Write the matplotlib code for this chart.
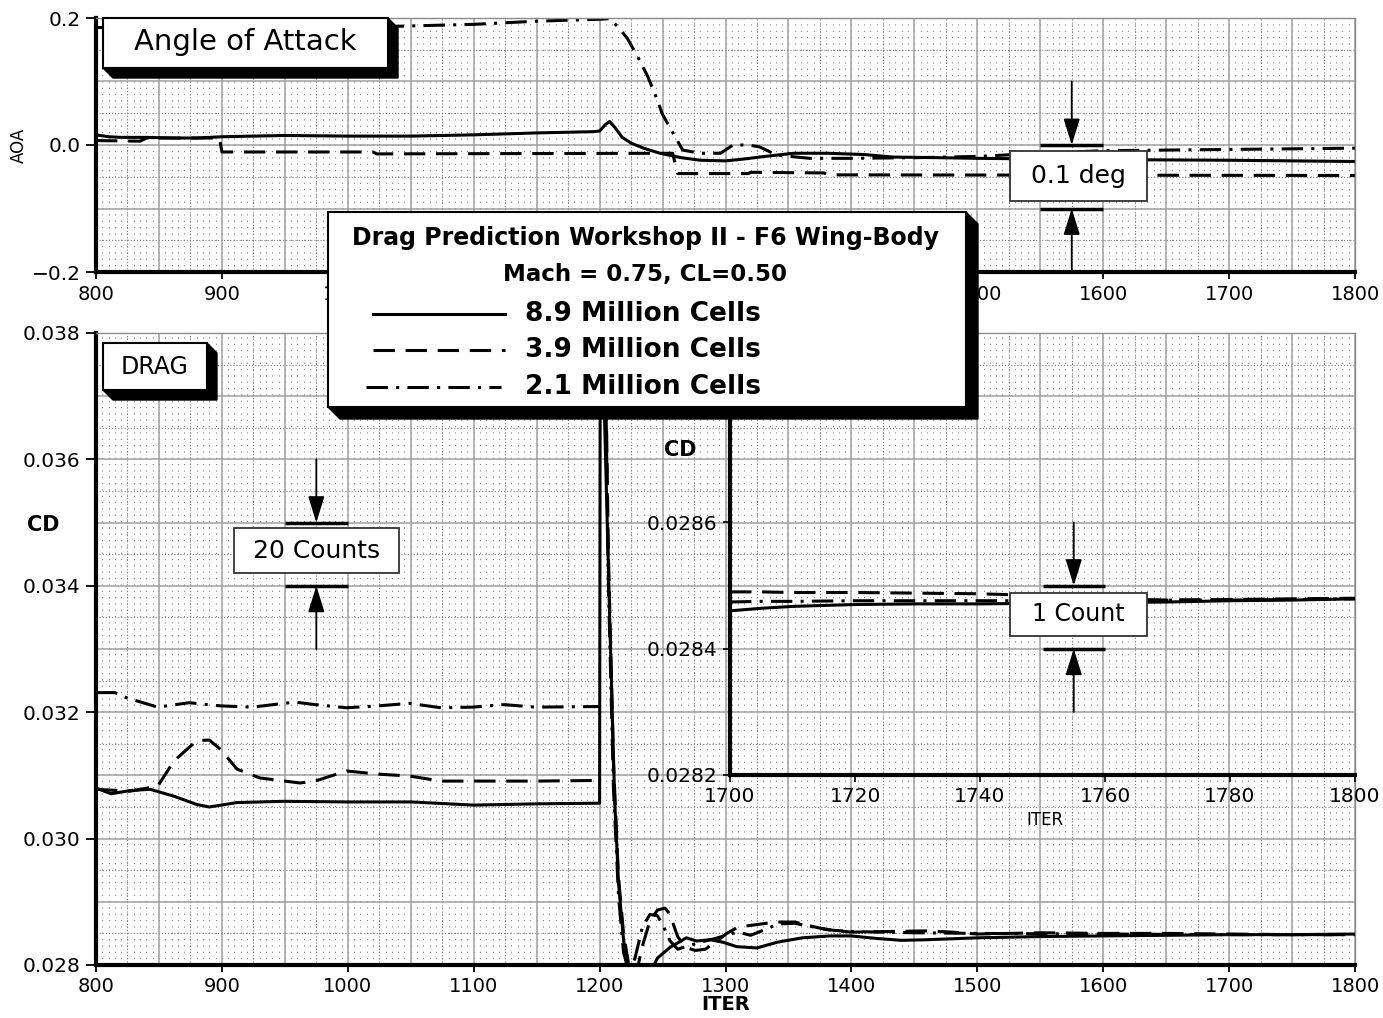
import numpy as np
import matplotlib
matplotlib.use("Agg")
import matplotlib.pyplot as plt
from matplotlib.patches import Polygon, Rectangle
from matplotlib.lines import Line2D

W, H = 1383, 1018

# angle of attack history (deg) for the three grids
aoa_fine_iter = [800, 810, 820, 840, 860, 880, 900, 950, 1000, 1050,
                 1100, 1150, 1195, 1200, 1205, 1208, 1212, 1218, 1225, 1235,
                 1248, 1265, 1280, 1300, 1315, 1327, 1354, 1381, 1410, 1433,
                 1470, 1500, 1550, 1600, 1700, 1800]
aoa_fine = [0.016, 0.013, 0.012, 0.012, 0.011, 0.011, 0.013, 0.015, 0.014, 0.014,
            0.016, 0.019, 0.021, 0.022, 0.033, 0.037, 0.028, 0.012, 0.003, -0.005,
            -0.013, -0.020, -0.024, -0.025, -0.022, -0.019, -0.013, -0.013, -0.015, -0.019,
            -0.020, -0.021, -0.022, -0.023, -0.024, -0.026]

aoa_med_iter = [800, 835, 840, 898, 900, 1020, 1023, 1258, 1262, 1318, 1320, 1378, 1383, 1800]
aoa_med = [0.007, 0.006, 0.011, 0.011, -0.011, -0.011, -0.014, -0.013, -0.045, -0.045,
           -0.043, -0.044, -0.047, -0.048]

aoa_coarse_iter = [800, 900, 1000, 1040, 1100, 1150, 1200, 1208, 1215, 1222,
                   1230, 1238, 1245, 1250, 1258, 1266, 1280, 1296, 1306, 1318,
                   1327, 1341, 1367, 1400, 1450, 1500, 1550, 1600, 1700, 1800]
aoa_coarse = [0.185, 0.186, 0.187, 0.187, 0.190, 0.195, 0.198, 0.199, 0.185, 0.168,
              0.140, 0.109, 0.075, 0.048, 0.020, -0.008, -0.013, -0.013, 0.0, 0.0,
              -0.003, -0.016, -0.021, -0.021, -0.020, -0.018, -0.013, -0.009, -0.007, -0.005]

# drag coefficient history (restart at iteration 1200)
cd_fine_iter = [800, 812, 827, 843, 862, 880, 890, 912, 949, 1000,
                1050, 1100, 1150, 1200, 1201, 1204, 1208, 1212, 1215, 1219,
                1223, 1230, 1238, 1246, 1256, 1269, 1277, 1288, 1298, 1309,
                1325, 1341, 1361, 1383, 1400, 1420, 1440, 1460, 1500, 1550,
                1600, 1650, 1700, 1750, 1800]
cd_fine = [0.03080, 0.03071, 0.03076, 0.03078, 0.03067, 0.03054, 0.03050, 0.03057, 0.03059, 0.03058,
           0.03058, 0.03053, 0.03055, 0.03056, 0.04500, 0.03660, 0.03350, 0.03060, 0.02930, 0.02840,
           0.02790, 0.02775, 0.02780, 0.02811, 0.02828, 0.02843, 0.02838, 0.02840, 0.02836, 0.02829,
           0.02827, 0.02836, 0.02843, 0.02846, 0.02846, 0.02842, 0.02839, 0.02840, 0.02843, 0.02845,
           0.02846, 0.02847, 0.02848, 0.02848, 0.02849]

cd_med_iter = [800, 827, 849, 862, 880, 890, 899, 912, 930, 962,
               974, 999, 1024, 1049, 1074, 1100, 1150, 1200, 1201, 1203,
               1207, 1211, 1215, 1219, 1224, 1229, 1234, 1240, 1246, 1252,
               1256, 1259, 1262, 1268, 1276, 1284, 1292, 1301, 1310, 1325,
               1340, 1355, 1367, 1380, 1400, 1430, 1460, 1480, 1500, 1550,
               1600, 1650, 1700, 1750, 1800]
cd_med = [0.03078, 0.03075, 0.03083, 0.03123, 0.03155, 0.03156, 0.03141, 0.03110, 0.03096, 0.03088,
          0.03091, 0.03107, 0.03102, 0.03099, 0.03091, 0.03091, 0.03091, 0.03092, np.nan, 0.04000,
          0.03450, 0.03120, 0.02940, 0.02850, 0.02790, 0.02785, 0.02830, 0.02870, 0.02887, 0.02890,
          0.02880, 0.02862, 0.02845, 0.02828, 0.02823, 0.02825, 0.02836, 0.02850, 0.02860, 0.02864,
          0.02868, 0.02868, 0.02862, 0.02856, 0.02852, 0.02853, 0.02854, 0.02852, 0.02849, 0.02851,
          0.02850, 0.02850, 0.02849, 0.02848, 0.02848]

cd_coarse_iter = [800, 815, 824, 849, 874, 899, 924, 958, 974, 999,
                  1024, 1049, 1074, 1099, 1124, 1149, 1200, 1201, 1203, 1207,
                  1211, 1215, 1219, 1223, 1228, 1234, 1240, 1246, 1251, 1256,
                  1262, 1270, 1280, 1292, 1302, 1310, 1320, 1330, 1342, 1355,
                  1370, 1385, 1400, 1450, 1500, 1600, 1700, 1800]
cd_coarse = [0.03231, 0.03231, 0.03223, 0.03208, 0.03215, 0.03210, 0.03208, 0.03216, 0.03212, 0.03207,
             0.03210, 0.03214, 0.03207, 0.03208, 0.03212, 0.03208, 0.03209, np.nan, 0.04000, 0.03400,
             0.03080, 0.02910, 0.02820, 0.02790, 0.02810, 0.02860, 0.02880, 0.02878, 0.02860, 0.02838,
             0.02825, 0.02830, 0.02836, 0.02842, 0.02848, 0.02852, 0.02847, 0.02855, 0.02865, 0.02866,
             0.02860, 0.02855, 0.02853, 0.02851, 0.02850, 0.02849, 0.02848, 0.02848]

# zoom on the last 100 iterations
zoom_iter = [1700, 1705, 1710, 1720, 1730, 1740, 1750, 1760, 1770, 1780, 1790, 1800]
zoom_fine = [0.028460, 0.028464, 0.028467, 0.028470, 0.028471, 0.028471,
             0.028472, 0.028473, 0.028474, 0.028476, 0.028477, 0.028479]
zoom_med = [0.028490, 0.028490, 0.028489, 0.028489, 0.028488, 0.028487,
            0.028484, 0.028479, 0.028477, 0.028478, 0.028479, 0.028480]
zoom_coarse = [0.028474, 0.028475, 0.028475, 0.028476, 0.028476, 0.028476,
               0.028476, 0.028476, 0.028477, 0.028477, 0.028478, 0.028479]

grid_labels = ['8.9 Million Cells', '3.9 Million Cells', '2.1 Million Cells']
iter_ticks = list(range(800, 1801, 100))
aoa_ticks = [-0.2, 0.0, 0.2]
aoa_tick_labels = ['\u22120.2', '0.0', '0.2']
cd_ticks = [0.028, 0.030, 0.032, 0.034, 0.036, 0.038]
zoom_iter_ticks = list(range(1700, 1801, 20))
zoom_cd_ticks = [0.0282, 0.0284, 0.0286]

fine_style = dict(color='black', lw=2.2, ls='-')
med_style = dict(color='black', lw=2.2, ls=(0, (7, 3.5)))
coarse_style = dict(color='black', lw=2.2, ls=(0, (7, 2.7, 1, 2.7)))


def fig_xy(x, y):
    return x / W, 1 - y / H


def px_rect(left, top, right, bottom):
    return [left / W, 1 - bottom / H, (right - left) / W, (bottom - top) / H]


def paper_grid(ax, xstep, ystep):
    # graph-paper look: solid lines, dotted half lines and a dot lattice
    x0, x1 = ax.get_xlim()
    y0, y1 = ax.get_ylim()
    eps = xstep * 1e-3
    xs_fine = np.arange(x0, x1 + eps, xstep / 10)
    ax.vlines(xs_fine, y0, y1, colors='#808080', linewidths=0.8,
              linestyles=(0, (1, 4.7)), zorder=0.1)
    xs_half = np.arange(x0 + xstep / 2, x1, xstep)
    ax.vlines(xs_half, y0, y1, colors='#808080', linewidths=0.8,
              linestyles=(0, (1, 1.8)), zorder=0.2)
    ys_half = np.arange(y0 + ystep / 2, y1, ystep)
    ax.hlines(ys_half, x0, x1, colors='#808080', linewidths=0.8,
              linestyles=(0, (1, 1.8)), zorder=0.2)
    ax.vlines(np.arange(x0, x1 + eps, xstep), y0, y1, colors='#a0a0a0',
              linewidths=1.1, zorder=0.3)
    ax.hlines(np.arange(y0, y1 + ystep * 1e-3, ystep), x0, x1, colors='#a0a0a0',
              linewidths=1.1, zorder=0.3)


def style_frame(ax):
    for side in ('left', 'bottom'):
        ax.spines[side].set_linewidth(3)
    for side in ('top', 'right'):
        ax.spines[side].set_linewidth(1)
        ax.spines[side].set_color('#8c8c8c')
    ax.tick_params(axis='y', direction='out', length=7, width=1.3, labelsize=14.5, pad=4)
    ax.tick_params(axis='x', direction='out', length=5, width=1.3, labelsize=14, pad=4)


def block(fig, x0, y0, x1, y1, depth, lw=1.5):
    if depth:
        shadow = [fig_xy(x0, y1), fig_xy(x0 + depth, y1 + depth),
                  fig_xy(x1 + depth, y1 + depth), fig_xy(x1 + depth, y0 + depth),
                  fig_xy(x1, y0)]
        fig.add_artist(Polygon(shadow, closed=True, transform=fig.transFigure,
                               fc='black', ec='black', lw=1))
    l, b = fig_xy(x0, y1)
    fig.add_artist(Rectangle((l, b), (x1 - x0) / W, (y1 - y0) / H,
                             transform=fig.transFigure, fc='white', ec='black', lw=lw))


def count_bracket(ax, x0, x1, lo, hi, reach):
    xm = (x0 + x1) / 2
    ax.hlines([lo, hi], x0, x1, colors='black', linewidths=2.5, zorder=4)
    arrow = dict(arrowstyle='-|>,head_length=0.9,head_width=0.28', color='black',
                 lw=1.3, mutation_scale=18, shrinkA=0, shrinkB=0)
    ax.annotate('', xy=(xm, hi), xytext=(xm, hi + reach), arrowprops=arrow)
    ax.annotate('', xy=(xm, lo), xytext=(xm, lo - reach), arrowprops=arrow)


def label_box(ax, x0, x1, y0, y1, text, size):
    ax.add_patch(Rectangle((x0, y0), x1 - x0, y1 - y0, fc='white', ec='#333333',
                           lw=1.3, zorder=5))
    ax.text((x0 + x1) / 2, (y0 + y1) / 2, text, ha='center', va='center',
            fontsize=size, zorder=6)


fig = plt.figure(figsize=(W / 100, H / 100), dpi=100)

# ---- angle of attack
ax_aoa = fig.add_axes(px_rect(96, 18, 1355, 272))
ax_aoa.set_xlim(800, 1800)
ax_aoa.set_ylim(-0.2, 0.2)
paper_grid(ax_aoa, 50, 0.1)
ax_aoa.plot(aoa_fine_iter, aoa_fine, zorder=2, **fine_style)
ax_aoa.plot(aoa_med_iter, aoa_med, zorder=2, **med_style)
ax_aoa.plot(aoa_coarse_iter, aoa_coarse, zorder=2, **coarse_style)
ax_aoa.set_xticks(iter_ticks)
ax_aoa.set_yticks(aoa_ticks, labels=aoa_tick_labels)
style_frame(ax_aoa)
ax_aoa.set_ylabel('AOA', fontsize=12, va='center')
ax_aoa.yaxis.set_label_coords(-0.061, 0.5)
count_bracket(ax_aoa, 1550, 1600, -0.1, 0.0, 0.1)
label_box(ax_aoa, 1526, 1635, -0.088, -0.010, '0.1 deg', 18)

# ---- drag coefficient
ax_cd = fig.add_axes(px_rect(96, 333, 1355, 965))
ax_cd.set_xlim(800, 1800)
ax_cd.set_ylim(0.028, 0.038)
paper_grid(ax_cd, 50, 0.001)
ax_cd.plot(cd_fine_iter, cd_fine, zorder=2, **fine_style)
ax_cd.plot(cd_med_iter, cd_med, zorder=2, **med_style)
ax_cd.plot(cd_coarse_iter, cd_coarse, zorder=2, **coarse_style)
ax_cd.set_xticks(iter_ticks)
ax_cd.set_yticks(cd_ticks, labels=[f'{v:.3f}' for v in cd_ticks])
style_frame(ax_cd)
ax_cd.set_ylabel('CD', rotation=0, fontsize=15, fontweight='bold', va='center', ha='center')
ax_cd.yaxis.set_label_coords(-0.042, 0.696)
ax_cd.set_xlabel('ITER', fontsize=14, fontweight='bold', va='center')
ax_cd.xaxis.set_label_coords(0.5, -0.063)
count_bracket(ax_cd, 950, 1000, 0.034, 0.035, 0.001)
label_box(ax_cd, 910, 1041, 0.03420, 0.03491, '20 Counts', 18)

# ---- converged tail, drawn over the main grid
ax_zoom = fig.add_axes(px_rect(730, 333, 1355, 775))
ax_zoom.set_facecolor('none')
ax_zoom.set_xlim(1700, 1800)
ax_zoom.set_ylim(0.0282, 0.0289)
ax_zoom.plot(zoom_iter, zoom_fine, zorder=2, **fine_style)
ax_zoom.plot(zoom_iter, zoom_med, zorder=2, **med_style)
ax_zoom.plot(zoom_iter, zoom_coarse, zorder=2, **coarse_style)
ax_zoom.set_xticks(zoom_iter_ticks)
ax_zoom.set_yticks(zoom_cd_ticks, labels=[f'{v:.4f}' for v in zoom_cd_ticks])
ax_zoom.spines['top'].set_visible(False)
ax_zoom.spines['right'].set_visible(False)
ax_zoom.spines['left'].set_linewidth(3)
ax_zoom.spines['bottom'].set_linewidth(3)
ax_zoom.tick_params(direction='out', length=5, width=1.2, labelsize=14.5, pad=4)
ax_zoom.set_ylabel('CD', rotation=0, fontsize=15, fontweight='bold', va='center', ha='center')
ax_zoom.yaxis.set_label_coords(-0.08, 0.735)
ax_zoom.set_xlabel('ITER', fontsize=12, va='center')
ax_zoom.xaxis.set_label_coords(0.504, -0.102)
count_bracket(ax_zoom, 1750, 1760, 0.0284, 0.0285, 0.0001)
label_box(ax_zoom, 1744.8, 1766.7, 0.02842, 0.028489, '1 Count', 17)

# ---- title blocks
block(fig, 103, 18, 388, 68, 10)
fig.text(*fig_xy(245, 42), 'Angle of Attack', ha='center', va='center', fontsize=21)
block(fig, 103, 343, 207, 390, 10)
fig.text(*fig_xy(155, 367), 'DRAG', ha='center', va='center', fontsize=17)

# ---- legend panel
block(fig, 328, 212, 966, 407, 12)
fig.text(*fig_xy(645, 238), 'Drag Prediction Workshop II - F6 Wing-Body',
         ha='center', va='center', fontsize=17, fontweight='bold')
fig.text(*fig_xy(645, 274), 'Mach = 0.75, CL=0.50',
         ha='center', va='center', fontsize=16.5, fontweight='bold')
for y, (xa, xb), style, label in zip([314, 350, 387],
                                     [(373, 505), (373, 505), (366, 501)],
                                     [fine_style, med_style, coarse_style],
                                     grid_labels):
    fig.add_artist(Line2D([xa / W, xb / W], [1 - y / H, 1 - y / H],
                          transform=fig.transFigure, **style))
    fig.text(*fig_xy(525, y), label, ha='left', va='center', fontsize=19, fontweight='bold')

fig.savefig('out.png', dpi=100)
